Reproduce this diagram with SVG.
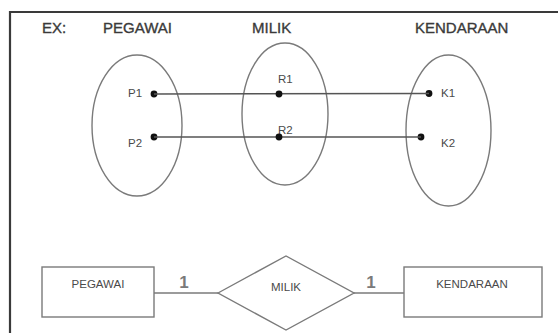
<svg xmlns="http://www.w3.org/2000/svg" width="558" height="333" viewBox="0 0 558 333">
  <style>
    .frame { fill: none; stroke: #3a3a3a; stroke-width: 2.2; }
    .set { fill: none; stroke: #7a7a7a; stroke-width: 1.4; }
    .shape { fill: #ffffff; stroke: #7a7a7a; stroke-width: 1.4; }
    .link { fill: none; stroke: #555555; stroke-width: 1.4; }
    .dot { fill: #111111; }
    .title { font-family: "Liberation Sans", Arial, sans-serif; font-size: 15px; fill: #3a3a3a; stroke: #3a3a3a; stroke-width: 0.35; }
    .elem { font-family: "Liberation Sans", Arial, sans-serif; font-size: 11.5px; fill: #4a4a4a; }
    .label { font-family: "Liberation Sans", Arial, sans-serif; font-size: 11.5px; fill: #4a4a4a; text-anchor: middle; }
    .card { font-family: "Liberation Sans", Arial, sans-serif; font-size: 17px; font-weight: bold; fill: #7a7a7a; text-anchor: middle; }
  </style>

  <rect width="558" height="333" fill="#ffffff"/>

  <!-- page frame: top rule and left rule -->
  <path class="frame" d="M10,333 V12 H558"/>

  <!-- headings -->
  <text class="title" x="42" y="33">EX:</text>
  <text class="title" x="103" y="33">PEGAWAI</text>
  <text class="title" x="252" y="33">MILIK</text>
  <text class="title" x="415" y="33">KENDARAAN</text>

  <!-- set diagrams -->
  <g id="set-pegawai">
    <ellipse class="set" cx="137" cy="125.5" rx="45" ry="70.5"/>
    <text class="elem" x="128" y="97">P1</text>
    <text class="elem" x="128" y="147">P2</text>
    <circle class="dot" cx="154" cy="94" r="3.4"/>
    <circle class="dot" cx="154" cy="137" r="3.4"/>
  </g>

  <g id="set-milik">
    <ellipse class="set" cx="285" cy="114" rx="43" ry="71"/>
    <text class="elem" x="278" y="83">R1</text>
    <text class="elem" x="278" y="134">R2</text>
  </g>

  <g id="set-kendaraan">
    <ellipse class="set" cx="448.5" cy="130.5" rx="42.5" ry="75.5"/>
    <text class="elem" x="441" y="97">K1</text>
    <text class="elem" x="441" y="147">K2</text>
    <circle class="dot" cx="429" cy="93.5" r="3.4"/>
    <circle class="dot" cx="421" cy="137" r="3.4"/>
  </g>

  <!-- mapping lines -->
  <g id="mappings">
    <line class="link" x1="154" y1="94" x2="429" y2="93.5"/>
    <line class="link" x1="154" y1="137" x2="421" y2="137"/>
    <circle class="dot" cx="279" cy="94" r="3.4"/>
    <circle class="dot" cx="279" cy="137" r="3.4"/>
  </g>

  <!-- ER diagram connectors -->
  <g id="er-connectors">
    <line class="set" x1="154" y1="293" x2="218" y2="293"/>
    <line class="set" x1="354" y1="293" x2="404" y2="293"/>
    <text class="card" x="184" y="288">1</text>
    <text class="card" x="371" y="288">1</text>
  </g>

  <g id="entity-pegawai">
    <rect class="shape" x="42" y="267" width="112" height="50"/>
    <text class="label" x="98" y="288">PEGAWAI</text>
  </g>

  <g id="relation-milik">
    <polygon class="shape" points="218,293 286,256 354,293 286,330"/>
    <text class="label" x="286" y="291">MILIK</text>
  </g>

  <g id="entity-kendaraan">
    <rect class="shape" x="404" y="267" width="138" height="50"/>
    <text class="label" x="472" y="288">KENDARAAN</text>
  </g>
</svg>
